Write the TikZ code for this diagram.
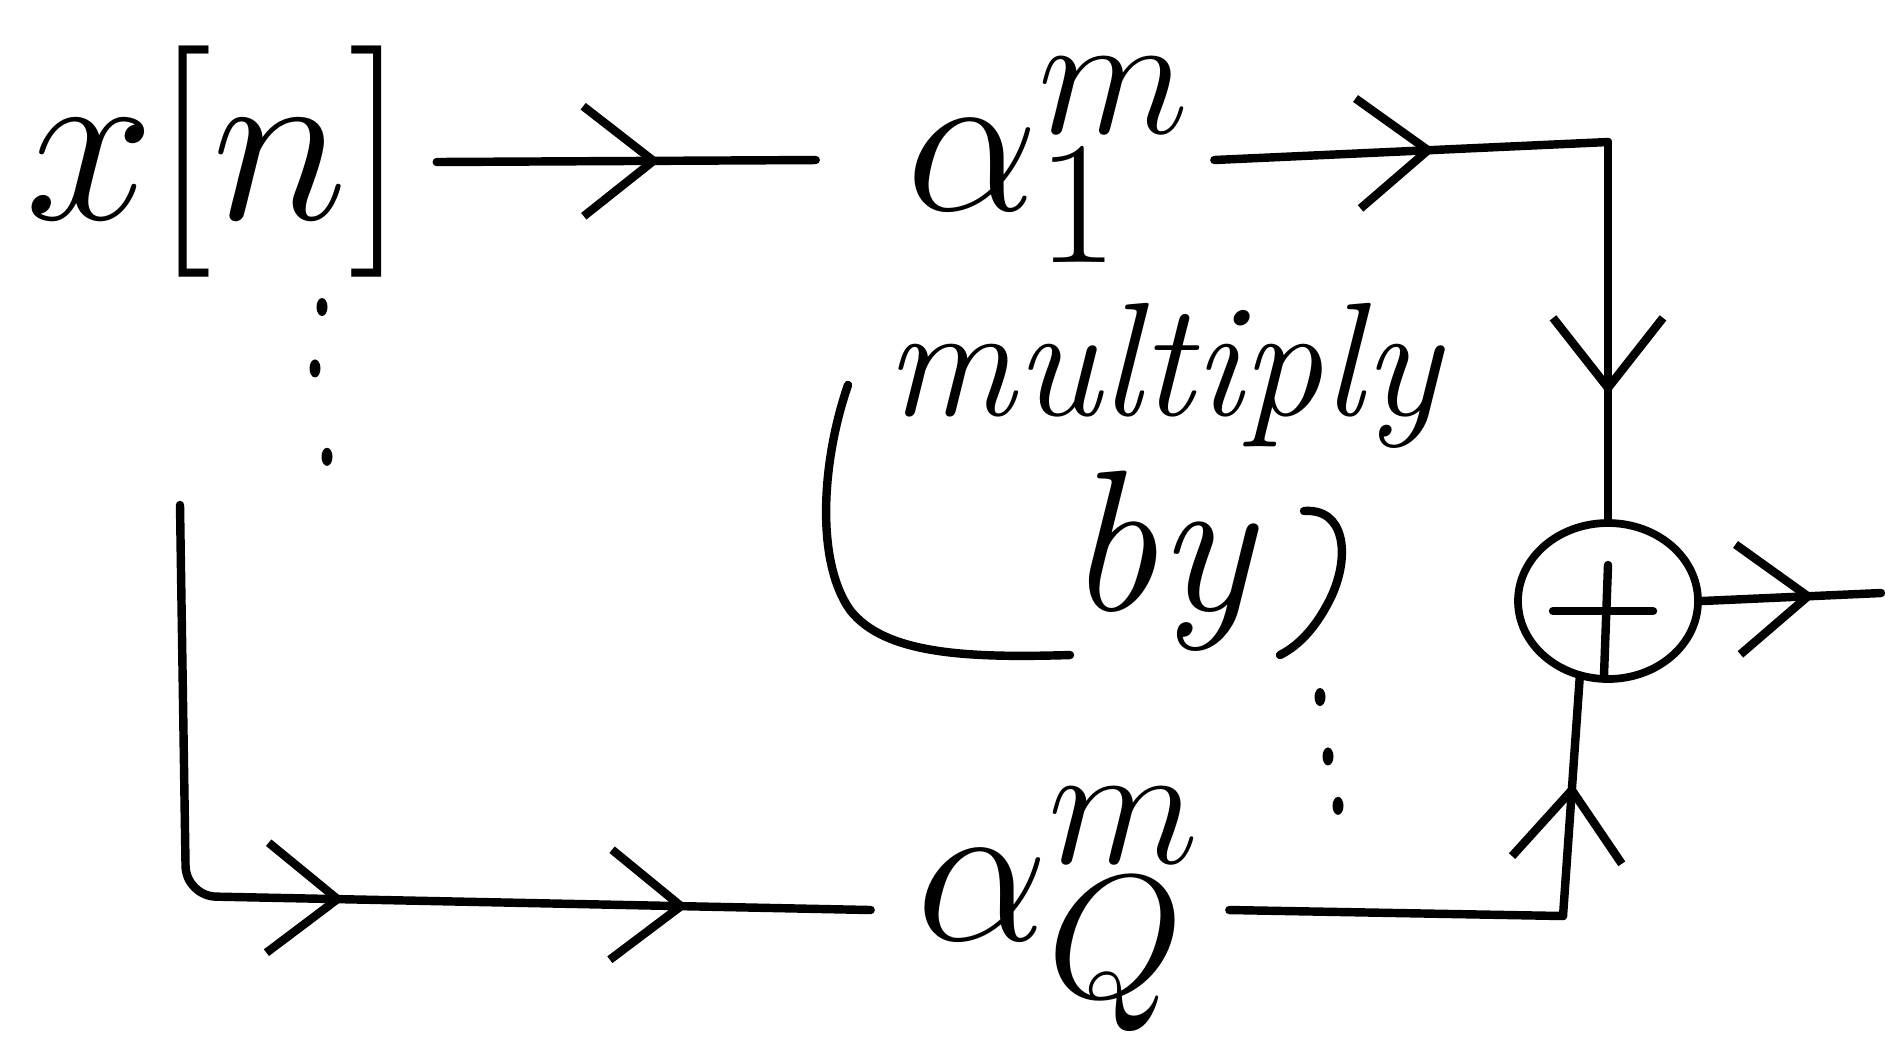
\documentclass[tikz,border=0pt]{standalone}
\usepackage{graphicx}
\usepackage{tikz}
\usetikzlibrary{arrows.meta, positioning, shapes.geometric, decorations.markings}
\newcommand{\symtext}[2][2.41]{\scalebox{#1}{#2}}
\newcommand{\notetext}[2][1.85]{\scalebox{#1}{#2}}

\begin{document}
\begin{tikzpicture}[
  sym/.style={inner sep=0pt, font=\Huge},
  note/.style={inner sep=0pt, anchor=base, font=\Huge\itshape},
  wire/.style={line width=2.4pt, line cap=round, line join=round},
  adder/.style={ellipse, draw, line width=2.2pt, minimum width=1.8cm, minimum height=1.56cm,
                path picture={
                  \draw[wire] ([shift={(-0.55,-0.1)}]path picture bounding box.center) -- ++(1,0);
                  \draw[wire] ([shift={(0,0.36)}]path picture bounding box.center) -- ++(-0.04,-1.1);}},
  dotmark/.style={ellipse, fill, inner sep=0pt, minimum width=0.11cm, minimum height=0.18cm},
  midtip/.style={postaction={decorate, decoration={markings,
                 mark=at position #1 with {\arrow[line width=2.4pt]{Straight Barb[length=7mm, width=11mm]}}}}},
]
\useasboundingbox (0,0) rectangle (18.85,-10.58);

\node[sym] (xn) at (2.16,-1.62) {\symtext[2.65]{$x[n]$}};
\node[sym] (a1) at (10.5,-1.6) {\symtext{$\alpha_1^m$}};
\node[sym] (aQ) at (10.6,-9.1) {\symtext{$\alpha_Q^m$}};
\node[adder] (sum) at (16.08,-6.01) {};

\coordinate (topc) at (16.08,-1.42);
\coordinate (botc) at (15.63,-9.16);
\coordinate (lefttop) at (1.80,-5.05);
\coordinate (leftc) at (1.86,-8.96);
\coordinate (out) at (18.81,-5.93);

\node[dotmark] (d1) at (3.22,-3.07) {};
\node[dotmark, below=0.42cm of d1, xshift=-0.07cm] (d2) {};
\node[dotmark, below=0.69cm of d2, xshift=0.12cm] (d3) {};
\node[dotmark] (e1) at (13.20,-6.97) {};
\node[dotmark, below=0.40cm of e1, xshift=0.08cm] (e2) {};
\node[dotmark, below=0.30cm of e2, xshift=0.10cm] (e3) {};

\node[note] (mul) at (11.63,-4.15) {\notetext{multiply}};
\node[note] (by) at (11.6,-6.1) {\notetext[2.3]{by}};
\draw[wire] (8.48,-3.85) .. controls (8.22,-4.6) and (8.15,-5.6) .. (8.5,-6.1)
  .. controls (8.85,-6.55) and (9.7,-6.58) .. (10.70,-6.55);
\draw[wire] (13.04,-5.11) .. controls (13.45,-5.08) and (13.5,-5.55) .. (13.32,-5.95)
  .. controls (13.18,-6.25) and (13.0,-6.45) .. (12.80,-6.55);

\draw[wire, midtip=0.59] ([xshift=0.3cm]xn.east) -- ([xshift=-0.9cm]a1.west);
\draw[wire, midtip=0.56] ([xshift=0.2cm]a1.east) -- (topc);
\draw[wire, midtip=0.67] (topc) -- (sum.north);
\draw[wire, midtip=0.63] (sum.east) -- (out);
\draw[wire, rounded corners=0.3cm, midtip=0.505, midtip=0.828]
  (lefttop) -- (leftc) -- ([xshift=-0.45cm]aQ.west);
\draw[wire] ([xshift=0.25cm]aQ.east) -- (botc);
\draw[wire, midtip=0.56] (botc) -- (sum.250);

\end{tikzpicture}
\end{document}
